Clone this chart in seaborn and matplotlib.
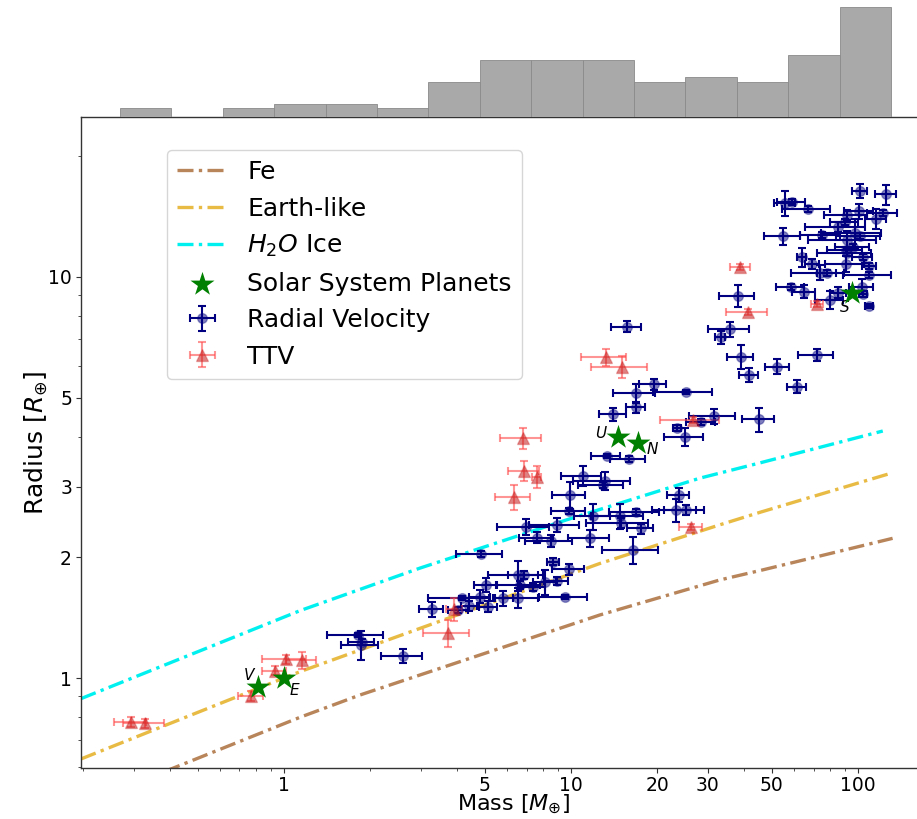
import numpy as np
import matplotlib
matplotlib.use("Agg")
import matplotlib.pyplot as plt
import seaborn as sns
from matplotlib.ticker import LogLocator, NullFormatter

# ---------------- data ----------------
# Radial-velocity planets: mass [M_earth], radius [R_earth] and 1-sigma errors
rv_mass = [1.815, 1.855, 1.87, 2.60, 3.27, 4.05, 4.18, 4.42, 4.82, 5.15, 5.04, 5.81, 6.55, 6.55, 6.86,
           6.64, 7.39, 8.12, 8.68, 8.92, 9.86, 9.53, 11.65, 6.95, 8.92, 7.63, 8.5, 4.86,
           14.04, 16.85, 28.4, 31.5, 23.5, 24.95, 13.3, 15.9, 10.98, 13.1, 12.9, 9.92, 9.84, 11.96, 14.8,
           16.9, 14.9, 17.5, 23.7, 23.2, 25.1, 16.5,
           38.1, 35.8, 33.2, 39.0, 41.6, 52.4, 61.1, 71.7, 45.1, 15.7, 19.4, 16.85, 25.1,
           58.4, 65.0, 79.9, 85.4, 103, 104.5, 109.5, 54.9, 74.7, 67.1, 58.7, 55.7, 63.6, 69.3, 73.8, 77.8,
           90.6, 91.3, 103.9, 109.5, 109.5, 91.3, 97.6, 96.3, 101.6, 90.6, 85.4, 90.1, 91.8, 101, 115.5,
           121.9, 101.6, 124.9]
rv_mass_err = [0.40, 0.27, 0.195, 0.43, 0.31, 0.32, 1.0, 0.27, 0.42, 0.38, 0.44, 0.47, 1.12, 1.41, 0.83,
               1.13, 0.71, 0.76, 0.4, 0.84, 1.25, 1.81, 1.88, 1.44, 1.77, 1.02, 1.57, 0.87,
               1.47, 1.31, 3.24, 5.7, 0.75, 3.85, 1.55, 2.24, 1.78, 2.97, 2.28, 1.3, 1.32, 1.68, 3.08,
               3.36, 3.62, 1.87, 2.05, 4.06, 4.04, 3.68,
               5.36, 5.9, 1.33, 4.0, 3.07, 4.9, 4.66, 10.1, 5.7, 1.9, 2.1, 2.8, 5.8,
               6.4, 5.9, 8.8, 5.5, 9.7, 3.35, 3.5, 7.95, 11.8, 12.8, 6.5, 4.8, 2.5, 3.7, 15.6, 5.7,
               14, 19.6, 8.3, 5.9, 20.8, 24.6, 23, 12.9, 17.8, 12.6, 20, 10.3, 15.4, 11.5, 10,
               14.7, 6.1, 10.5]
rv_radius = [1.28, 1.209, 1.229, 1.137, 1.483, 1.478, 1.586, 1.512, 1.595, 1.506, 1.706, 1.58, 1.586, 1.807, 1.807,
             1.706, 1.69, 1.738, 1.95, 1.745, 1.867, 1.595, 2.23, 2.385, 2.41, 2.24, 2.2, 2.04,
             4.55, 4.73, 4.36, 4.50, 4.2, 4.0, 3.58, 3.52, 3.19, 3.10, 3.03, 2.86, 2.61, 2.53, 2.53,
             2.6, 2.43, 2.36, 2.86, 2.62, 2.62, 2.085,
             8.98, 7.41, 7.07, 6.33, 5.70, 5.98, 5.33, 6.39, 4.42, 7.52, 5.40, 5.13, 5.16,
             9.46, 9.19, 8.76, 9.14, 9.46, 9.07, 8.47, 12.65, 12.73, 14.75, 15.41, 15.27, 11.2, 10.78, 10.25, 10.25,
             10.8, 11.46, 11.2, 10.65, 10.1, 12.37, 12.85, 11.9, 12.65, 11.66, 13.35, 13.74, 14.28, 14.61, 13.95,
             14.47, 16.41, 16.08]
rv_radius_err = [0.015, 0.099, 0.02, 0.044, 0.064, 0.025, 0.02, 0.043, 0.061, 0.048, 0.066, 0.07, 0.088, 0.156, 0.04,
                 0.04, 0.04, 0.125, 0.037, 0.04, 0.062, 0.018, 0.106, 0.114, 0.093, 0.075, 0.073, 0.035,
                 0.175, 0.158, 0.075, 0.194, 0.07, 0.21, 0.04, 0.06, 0.183, 0.164, 0.05, 0.22, 0.045, 0.19, 0.18,
                 0.045, 0.07, 0.068, 0.118, 0.176, 0.075, 0.16,
                 0.56, 0.33, 0.27, 0.44, 0.22, 0.265, 0.205, 0.23, 0.305, 0.24, 0.18, 0.29, 0.06,
                 0.16, 0.35, 0.46, 0.3, 0.41, 0.16, 0.1, 0.6, 0.22, 0.25, 0.27, 1.1, 0.59, 0.31, 0.44, 0.18,
                 0.48, 0.2, 0.2, 0.18, 0.17, 0.65, 1.1, 0.2, 0.22, 0.2, 0.38, 0.24, 0.41, 0.63, 0.8,
                 0.25, 0.63, 0.92]

# Transit-timing-variation planets
ttv_mass = [0.293, 0.328, 0.766, 0.93, 1.016, 1.158, 3.72, 3.92, 6.78, 6.88, 7.59, 6.33,
            26.7, 26.2, 13.2, 15.1, 41.5, 71.8, 38.8]
ttv_mass_err = [0.037, 0.053, 0.077, 0.09, 0.178, 0.14, 0.68, 0.25, 1.1, 0.86, 0.3, 0.88,
                6.2, 2.46, 2.36, 3.37, 6.7, 3.45, 3.1]
ttv_radius = [0.778, 0.771, 0.903, 1.043, 1.115, 1.109, 1.293, 1.486, 3.96, 3.29, 3.18, 2.83,
              4.40, 2.385, 6.31, 5.98, 8.17, 8.55, 10.6]
ttv_radius_err = [0.021, 0.02, 0.026, 0.027, 0.029, 0.053, 0.099, 0.097, 0.246, 0.195, 0.205, 0.2,
                  0.076, 0.041, 0.3, 0.37, 0.14, 0.15, 0.18]

# Solar System planets inside the plotted range
planet_names = ["V", "E", "U", "N", "S"]
planet_mass = [0.815, 1.0, 14.54, 17.15, 95.16]
planet_radius = [0.949, 1.0, 3.98, 3.86, 9.14]

# Composition mass-radius relations
fe_mass = [0.196, 0.411, 1.137, 1.84, 12.6, 33.0, 46.5, 132.0]
fe_radius = [0.485, 0.596, 0.798, 0.907, 1.436, 1.756, 1.86, 2.23]
earth_mass = [0.196, 1.0, 1.137, 12.6, 33.0, 45.6, 132.0]
earth_radius = [0.628, 1.0, 1.037, 1.93, 2.41, 2.59, 3.25]
ice_mass = [0.196, 1.137, 2.98, 9.66, 28.1, 45.6, 122.0]
ice_radius = [0.888, 1.472, 1.88, 2.48, 3.15, 3.44, 4.13]

# Mass histogram (planets per logarithmic bin)
hist_counts = [2, 0, 2, 3, 3, 2, 8, 13, 13, 13, 8, 9, 8, 14, 25]
hist_edges = np.geomspace(0.2683, 130.3, len(hist_counts) + 1)

x_ticks = [1, 5, 10, 20, 30, 50, 100]
x_tick_labels = ["1", "5", "10", "20", "30", "50", "100"]
y_ticks = [1, 2, 3, 5, 10]
y_tick_labels = ["1", "2", "3", "5", "10"]

# ---------------- figure ----------------
sns.set_style("ticks")
plt.rcParams["font.family"] = ["DejaVu Sans"]
plt.rcParams["mathtext.fontset"] = "dejavusans"
plt.rcParams["text.color"] = "black"
plt.rcParams["axes.labelcolor"] = "black"
plt.rcParams["xtick.color"] = "black"
plt.rcParams["ytick.color"] = "black"

W, H = 917, 819
fig = plt.figure(figsize=(W / 100, H / 100), dpi=100)
ax = fig.add_axes([81 / W, (H - 768) / H, (921 - 81) / W, (768 - 117) / H])
ax_hist = fig.add_axes([81 / W, (H - 117) / H, (921 - 81) / W, 117 / H], sharex=ax)

ax.set_xscale("log")
ax.set_yscale("log")

dash = (0, (4.8, 1.6, 1.0, 1.6))
sns.lineplot(x=fe_mass, y=fe_radius, ax=ax, color="#b8845a", lw=2.4, linestyle=dash,
             sort=False, estimator=None, label="Fe")
sns.lineplot(x=earth_mass, y=earth_radius, ax=ax, color="#e8bb45", lw=2.4, linestyle=dash,
             sort=False, estimator=None, label="Earth-like")
sns.lineplot(x=ice_mass, y=ice_radius, ax=ax, color="#00f0f0", lw=2.4, linestyle=dash,
             sort=False, estimator=None, label="$H_2O$ Ice")

navy = (0.0, 0.0, 0.5)
ax.errorbar(rv_mass, rv_radius, xerr=rv_mass_err, yerr=rv_radius_err, fmt="o", ms=7,
            mfc=(*navy, 0.5), mec=(*navy, 0.35), ecolor=navy, elinewidth=1.5,
            capsize=3, capthick=1.5, zorder=3, label="Radial Velocity")
ax.errorbar(ttv_mass, ttv_radius, xerr=ttv_mass_err, yerr=ttv_radius_err, fmt="^", ms=8.5,
            mfc=(0.78, 0.1, 0.1, 0.55), mec=(0.78, 0.1, 0.1, 0.3), ecolor=(1.0, 0.3, 0.3, 0.6),
            elinewidth=1.5, capsize=3, capthick=1.5, zorder=3, label="TTV")

sns.scatterplot(x=planet_mass, y=planet_radius, ax=ax, marker="*", s=330, color="green",
                linewidth=0, zorder=5, label="Solar System Planets")

offsets = {"V": (-6.5, 8.6), "E": (7.7, -8.9), "U": (-12.2, 2.9), "N": (10.0, -5.0), "S": (-5.0, -10.8)}
for name, m, r in zip(planet_names, planet_mass, planet_radius):
    ax.annotate(name, (m, r), xytext=offsets[name], textcoords="offset points",
                ha="center", va="center", fontsize=11, style="italic")

ax.set_xlim(0.1963, 10 ** ((921 - 284) / 287))
ax.set_ylim(0.5965, 25.06)
ax.set_xticks(x_ticks, labels=x_tick_labels)
ax.set_yticks(y_ticks, labels=y_tick_labels)
ax.xaxis.set_minor_locator(LogLocator(base=10, subs=np.arange(2, 10)))
ax.yaxis.set_minor_locator(LogLocator(base=10, subs=np.arange(2, 10)))
ax.xaxis.set_minor_formatter(NullFormatter())
ax.yaxis.set_minor_formatter(NullFormatter())
ax.tick_params(which="both", direction="out", labelsize=13.5, color="0.2")
ax.tick_params(axis="x", pad=2)
ax.tick_params(axis="y", pad=3)
for sp in ax.spines.values():
    sp.set_color("0.2")
    sp.set_linewidth(1.0)

ax.set_xlabel(r"Mass [$M_{\oplus}$]", fontsize=16, labelpad=-1.5)
ax.xaxis.label.set_x(0.515)
ax.set_ylabel(r"Radius [$R_{\oplus}$]", fontsize=18, labelpad=-1)

handles, labels = ax.get_legend_handles_labels()
order = ["Fe", "Earth-like", "$H_2O$ Ice", "Solar System Planets", "Radial Velocity", "TTV"]
hmap = dict(zip(labels, handles))
ax.legend([hmap[k] for k in order], order, loc="upper left",
          bbox_to_anchor=((167 - 81) / (921 - 81), (768 - 150) / 651), borderaxespad=0,
          fontsize=18, frameon=True, fancybox=True, edgecolor="0.8", framealpha=0.8)

# mass histogram on top
ax_hist.bar(hist_edges[:-1], hist_counts, width=np.diff(hist_edges), align="edge",
            color="darkgray", edgecolor="#8a8a8a", linewidth=0.6)
ax_hist.set_ylim(0, 26.6)
ax_hist.axis("off")

fig.savefig("out.png", dpi=100)
